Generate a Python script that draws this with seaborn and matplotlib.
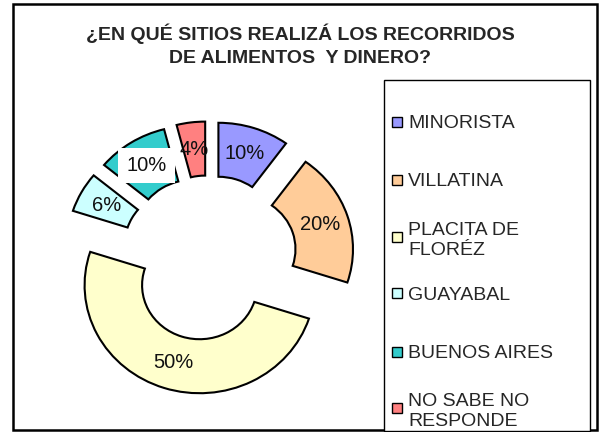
import matplotlib
matplotlib.use("Agg")
import matplotlib.pyplot as plt
from matplotlib.patches import Rectangle
import seaborn as sns

# data
sitios = ["MINORISTA", "VILLATINA", "PLACITA DE\nFLORÉZ", "GUAYABAL",
          "BUENOS AIRES", "NO SABE NO\nRESPONDE"]
porcentajes = [10, 20, 50, 6, 10, 4]
colores = ["#9999FF", "#FFCC99", "#FFFFCC", "#CCFFFF", "#33CCCC", "#FF8080"]
titulo = "¿EN QUÉ SITIOS REALIZÁ LOS RECORRIDOS\nDE ALIMENTOS  Y DINERO?"

sns.set_theme(style="white")
plt.rcParams["font.family"] = ["Liberation Sans", "DejaVu Sans"]

palette = sns.color_palette(colores)

fig = plt.figure(figsize=(6, 4.32), dpi=100)
fig.patch.set_facecolor("white")

# doughnut, exploded like the Excel original
ax = fig.add_axes([0, 0, 1, 1])
wedges, texts, autotexts = ax.pie(
    porcentajes, colors=palette, explode=[0.265] * len(porcentajes),
    startangle=90, counterclock=False, autopct="%1.0f%%", pctdistance=0.75,
    wedgeprops=dict(width=0.5, edgecolor="black", linewidth=1.5),
    textprops=dict(fontsize=14.5, color="#111111"))
autotexts[4].set_bbox(dict(facecolor="white", edgecolor="none",
                           boxstyle="square,pad=0.4"))
ax.set_aspect("auto")
ax.set_xlim(-209 / 115, 391 / 115)
ax.set_ylim(-174 / 108, 258 / 108)
ax.axis("off")

# overlay in pixel coordinates: frame, title, legend
ov = fig.add_axes([0, 0, 1, 1], facecolor="none")
ov.set_xlim(0, 600)
ov.set_ylim(432, 0)
ov.axis("off")

ov.add_patch(Rectangle((13, 4), 584, 426, fill=False, ec="black", lw=1.8))
ov.text(300, 45, titulo, ha="center", va="center", fontsize=14,
        fontweight="bold", linespacing=1.45)

ov.add_patch(Rectangle((384, 80), 206, 351, fc="white", ec="black", lw=1))
ys = [122, 180, 237, 293, 352, 408]
for nombre, c, y in zip(sitios, palette, ys):
    ov.add_patch(Rectangle((392, y - 5), 10, 10, fc=c, ec="black", lw=1))
    ov.text(408, y, nombre, ha="left", va="center_baseline", fontsize=14,
            linespacing=1.2)

fig.savefig("out.png", dpi=100)
